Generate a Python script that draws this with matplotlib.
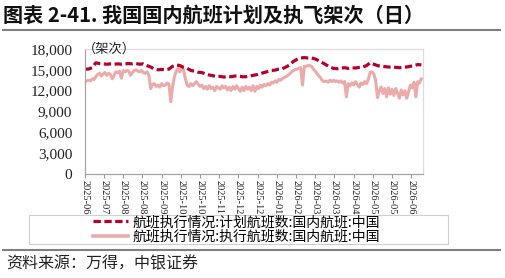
import matplotlib
matplotlib.use("Agg")
import matplotlib.pyplot as plt
import matplotlib.dates as mdates
from matplotlib.patches import Rectangle
from matplotlib.lines import Line2D
from matplotlib.ticker import FuncFormatter
import numpy as np
import pandas as pd

CJK = ["Noto Sans CJK SC", "DejaVu Sans"]
SERIF = "Liberation Serif"
RED = "#B8002A"
PINK = "#EBABAA"

# ── data (thousand flights per day) ─────────────────────────────────────────
start = pd.Timestamp("2025-06-24")
plan_dates = pd.date_range(start, periods=93, freq="4D")
plan_k = [
    15.1, 15.1, 15.3, 16.0, 15.9, 15.85, 15.8, 15.85, 15.8, 15.85,
    15.8, 15.85, 15.9, 15.85, 15.9, 15.8, 15.85, 15.6, 15.4, 15.1,
    15.0, 15.05, 15.0, 15.1, 15.5, 15.7, 15.6, 15.35, 15.2, 14.9,
    14.8, 14.65, 14.6, 14.4, 14.25, 14.15, 14.0, 14.05, 13.95, 14.05,
    14.0, 14.1, 14.1, 14.0, 14.0, 14.1, 14.2, 14.3, 14.45, 14.6,
    14.75, 14.9, 14.95, 15.1, 15.15, 15.4, 15.7, 16.2, 16.5, 16.7,
    16.75, 16.7, 16.7, 16.55, 16.3, 16.0, 15.7, 15.4, 15.2, 15.15,
    15.25, 15.3, 15.2, 15.3, 15.25, 15.35, 15.4, 15.6, 16.0, 15.8,
    15.6, 15.5, 15.45, 15.4, 15.35, 15.35, 15.3, 15.35, 15.4, 15.5,
    15.6, 15.75, 15.7,
]
exec_dates = pd.date_range(start, periods=185, freq="2D")
exec_k = [
    13.3, 13.4, 13.5, 13.4, 13.7, 13.6, 14.0, 14.3, 14.5, 14.1,
    14.4, 14.6, 14.2, 14.5, 14.3, 13.7, 14.2, 14.7, 14.6, 14.8,
    13.8, 14.9, 14.7, 14.9, 14.8, 14.2, 14.6, 14.9, 15.0, 14.8,
    14.7, 14.9, 14.6, 14.5, 14.7, 14.2, 12.3, 12.9, 13.0, 12.6,
    12.8, 12.5, 13.0, 12.7, 12.8, 13.1, 12.9, 10.4, 12.6, 14.0,
    14.8, 15.2, 14.7, 15.4, 14.9, 13.7, 12.8, 12.6, 13.0, 12.7,
    13.0, 13.3, 12.9, 12.6, 12.8, 12.3, 12.6, 12.2, 12.7, 12.3,
    12.5, 12.0, 12.6, 12.4, 12.2, 12.7, 12.4, 12.6, 12.1, 12.5,
    12.0, 12.6, 12.2, 12.7, 12.3, 11.9, 12.5, 12.0, 12.6, 12.2,
    12.5, 12.0, 12.7, 11.9, 12.6, 12.3, 12.8, 12.5, 12.9, 12.7,
    13.0, 12.8, 13.2, 13.1, 13.4, 13.2, 13.6, 13.5, 13.7, 13.9,
    14.0, 14.2, 14.4, 14.7, 14.9, 15.0, 15.1, 15.2, 15.3, 12.8,
    15.5, 15.5, 15.6, 15.6, 15.5, 15.1, 14.8, 14.4, 14.1, 13.8,
    13.4, 13.3, 13.4, 13.2, 13.5, 13.3, 13.5, 13.3, 13.4, 13.2,
    13.4, 13.1, 13.3, 11.1, 13.0, 12.7, 13.1, 12.8, 13.3, 12.9,
    12.5, 13.1, 12.9, 13.3, 13.0, 13.6, 14.6, 14.7, 14.4, 13.5,
    11.0, 11.9, 12.5, 11.6, 12.3, 11.1, 12.4, 11.5, 12.2, 11.3,
    12.3, 11.6, 10.9, 12.1, 11.4, 12.0, 10.9, 11.8, 12.8, 12.4,
    13.2, 11.1, 13.3, 13.1, 13.7,
]
tick_dates = pd.date_range(start, periods=18, freq="21D")
y_ticks = [0, 3000, 6000, 9000, 12000, 15000, 18000]
labels = ["航班执行情况:计划航班数:国内航班:中国",
          "航班执行情况:执行航班数:国内航班:中国"]

plan = np.array(plan_k) * 1000
executed = np.array(exec_k) * 1000

fig = plt.figure(figsize=(5.05, 2.78), dpi=100)
ax = fig.add_axes([0.168, 0.374, 0.670, 0.450])

ax.plot(exec_dates, executed, color=PINK, lw=2.2, solid_joinstyle="round")
ax.plot(plan_dates, plan, color=RED, lw=2.3, linestyle=(0, (2.3, 1.1)))

ax.set_ylim(0, 18000)
ax.set_yticks(y_ticks)
ax.yaxis.set_major_formatter(FuncFormatter(lambda v, p: f"{int(v):,}"))
ax.set_xlim(start, start + pd.Timedelta(days=370))
ax.set_xticks(tick_dates)
ax.xaxis.set_major_formatter(mdates.DateFormatter("%Y-%m"))

ax.tick_params(axis="y", length=0, pad=9, labelcolor="#222222",
               labelsize=11, labelfontfamily=SERIF)
ax.tick_params(axis="x", length=3, pad=1, color="#999999", labelcolor="#222222",
               labelsize=7.5, labelfontfamily=SERIF, labelrotation=270)
for lab in ax.get_xticklabels():
    lab.set_va("top")
    lab.set_ha("center")

ax.spines["left"].set_color("#A6A6A6")
ax.spines["bottom"].set_color("#A6A6A6")
ax.spines["top"].set_color("#DDDDDD")
ax.spines["right"].set_color("#DDDDDD")
for s in ax.spines.values():
    s.set_linewidth(0.9)

ax.text(-0.005, 1.0, "（架次）", transform=ax.transAxes, ha="left", va="center",
        fontsize=9.5, family=CJK, color="#222222")

# legend box
fig.patches.append(Rectangle((29 / 505, 1 - 244 / 278), 419 / 505, 29 / 278,
                             transform=fig.transFigure, facecolor="white",
                             edgecolor="#CFCFCF", lw=0.8, zorder=2))
handles = [Line2D([], [], color=RED, lw=2.3, linestyle=(0, (2.3, 1.1))),
           Line2D([], [], color=PINK, lw=2.6)]
fig.legend(handles, labels, loc="center left", bbox_to_anchor=(93 / 505, 1 - 229.5 / 278),
           frameon=False, prop={"family": CJK, "size": 10}, handlelength=2.5,
           handletextpad=0.35, labelspacing=0.05, borderpad=0, borderaxespad=0)

# title, separators and source
fig.text(3 / 505, 1 - 15 / 278, "图表 2-41. 我国国内航班计划及执飞架次（日）",
         ha="left", va="center", fontsize=14.5, weight="bold", family=CJK, color="#111111")
fig.add_artist(Line2D([3 / 505, 500 / 505], [1 - 30 / 278, 1 - 30 / 278],
                      color="#7F7F7F", lw=1.5, transform=fig.transFigure))
fig.add_artist(Line2D([3 / 505, 500 / 505], [1 - 250 / 278, 1 - 250 / 278],
                      color="#7F7F7F", lw=1.5, transform=fig.transFigure))
fig.text(6 / 505, 1 - 264 / 278, "资料来源：万得，中银证券", ha="left", va="center",
         fontsize=11.5, style="italic", family=CJK, color="#222222")

fig.savefig("out.png", dpi=100, facecolor="white")
